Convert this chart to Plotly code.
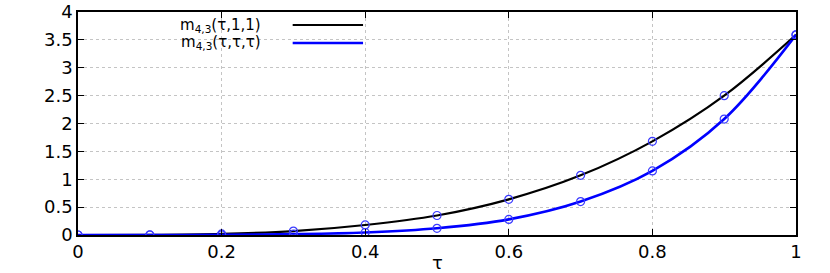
import plotly.graph_objects as go

tau = [0.0, 0.1, 0.2, 0.3, 0.4, 0.5, 0.6, 0.7, 0.8, 0.9, 1.0]
m_tau_1_1 = [0.0, 0.002, 0.02, 0.07, 0.18, 0.35, 0.64, 1.07, 1.68, 2.50, 3.59]
m_tau_tau_tau = [0.0, 0.0003, 0.003, 0.015, 0.045, 0.12, 0.28, 0.60, 1.15, 2.08, 3.59]
series_names = ["m<sub>4,3</sub>(τ,1,1)", "m<sub>4,3</sub>(τ,τ,τ)"]
line_colors = ["#000000", "#0000ff"]
marker_color = "#3a3aff"
x_ticks = [0, 0.2, 0.4, 0.6, 0.8, 1]
x_tick_text = ["0", "0.2", "0.4", "0.6", "0.8", "1"]
y_ticks = [0, 0.5, 1, 1.5, 2, 2.5, 3, 3.5, 4]
y_tick_text = ["0", "0.5", "1", "1.5", "2", "2.5", "3", "3.5", "4"]
x_title = "τ"

FONT = "DejaVu Sans"
fig = go.Figure()
for ys, col, w in [(m_tau_1_1, line_colors[0], 2.2), (m_tau_tau_tau, line_colors[1], 2.6)]:
    fig.add_trace(go.Scatter(x=tau, y=ys, mode="lines", line=dict(color=col, width=w, shape="spline", smoothing=1.0),
                             showlegend=False, hoverinfo="skip"))
for ys in [m_tau_1_1, m_tau_tau_tau]:
    fig.add_trace(go.Scatter(x=tau, y=ys, mode="markers",
                             marker=dict(symbol="circle-open", size=8, color=marker_color, line=dict(width=1.2, color=marker_color)),
                             showlegend=False))

# legend drawn manually (text left of sample, gnuplot style)
leg_y = [0.9416, 0.861]
for name, col, yy, w in zip(series_names, line_colors, leg_y, [2.2, 2.6]):
    fig.add_annotation(xref="paper", yref="paper", x=0.258, y=yy, text=name, showarrow=False,
                       xanchor="right", yanchor="middle", font=dict(family=FONT, size=15, color="black"))
    fig.add_shape(type="line", xref="paper", yref="paper", x0=0.299, x1=0.397, y0=yy, y1=yy,
                  line=dict(color=col, width=w))

# x-axis title as annotation so it sits at the reference height
fig.add_annotation(xref="paper", yref="paper", x=0.5, y=-0.125, text=x_title, showarrow=False,
                   xanchor="center", yanchor="middle", font=dict(family=FONT, size=18, color="black"))

axis_common = dict(showline=True, linecolor="black", linewidth=1.5, mirror="allticks", ticks="inside",
                   ticklen=6, tickcolor="black", showgrid=True, gridcolor="#c4c4c4", griddash="dot", gridwidth=1,
                   zeroline=False, automargin=False, ticklabeloverflow="allow",
                   tickfont=dict(family=FONT, size=18, color="black"))
fig.update_xaxes(range=[0, 1], tickvals=x_ticks, ticktext=x_tick_text, ticklabelstandoff=0, **axis_common)
fig.update_yaxes(range=[0, 4], tickvals=y_ticks, ticktext=y_tick_text, **axis_common)
fig.update_layout(width=830, height=273, margin=dict(l=78, r=34, t=12, b=38),
                  plot_bgcolor="white", paper_bgcolor="white", font=dict(family=FONT))
fig.write_html("out.html", config={"displayModeBar": False},
               post_script="document.body.style.margin='0';")
